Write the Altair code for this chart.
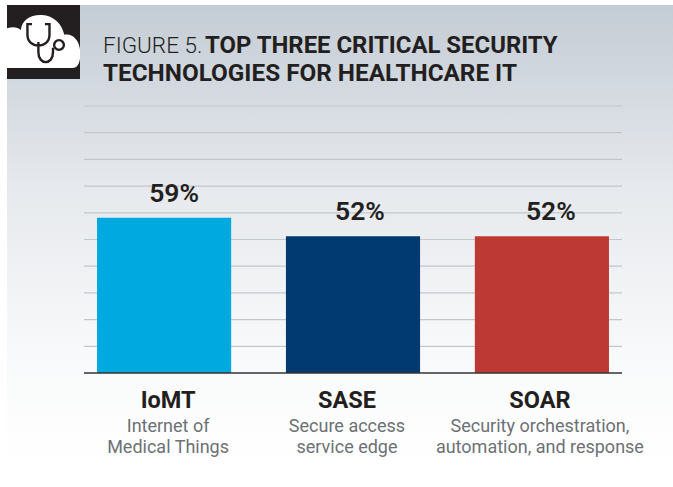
import altair as alt
import pandas as pd

names = ["IoMT", "SASE", "SOAR"]
shares = [59, 52, 52]
bar_colors = ["#00a9e0", "#003a70", "#bd3a34"]
first_lines = ["Internet of", "Secure access", "Security orchestration,"]
second_lines = ["Medical Things", "service edge", "automation, and response"]
grid_levels = [10.15, 20.3, 30.45, 40.6, 50.75, 60.9, 71.05, 81.2, 91.35, 101.5]
value_dx = [10, 7, 9]
caption_dx = [4, -6, -2]

W, H = 538, 267
LEFT, TOP = 84, 106

table = pd.DataFrame({
    "name": names,
    "share": shares,
    "label": [f"{s}%" for s in shares],
    "first": first_lines,
    "second": second_lines,
})

x_scale = alt.Scale(domain=names, paddingInner=0.29, paddingOuter=0.069)
y_scale = alt.Scale(domain=[0, 101.5], nice=False, zero=True)
x = alt.X("name:N", scale=x_scale, axis=None)
y = alt.Y("share:Q", scale=y_scale, axis=None)
colors = alt.Color("name:N", scale=alt.Scale(domain=names, range=bar_colors), legend=None)


def box(x0, x1, y0, y1):
    """Encoding for a rectangle given in page pixels."""
    return dict(
        x=alt.value(x0 - LEFT), x2=alt.value(x1 - LEFT),
        y=alt.value(y0 - TOP), y2=alt.value(y1 - TOP),
    )


def at(px, py):
    return dict(x=alt.value(px - LEFT), y=alt.value(py - TOP))


one = alt.Data(values=[{"k": 0}])

panel = alt.Chart(one).mark_rect(
    clip=False,
    color=alt.Gradient(
        gradient="linear", x1=0, y1=0, x2=0, y2=1,
        stops=[
            alt.GradientStop(color="#c4ccd5", offset=0),
            alt.GradientStop(color="#e6e9ed", offset=0.38),
            alt.GradientStop(color="#f8f9fa", offset=0.72),
            alt.GradientStop(color="#ffffff", offset=0.95),
        ],
    ),
).encode(**box(7, 673, 5, 487))

badge = alt.Chart(one).mark_rect(color="#231f20").encode(**box(7, 80, 5, 79))

# Icon outlines, in symbol units centred on the badge
cloud_path = (
    "M-1 0.71 L-1 -0.38 C-0.85 -0.42 -0.72 -0.42 -0.62 -0.33 "
    "C-0.6 -0.6 -0.35 -0.76 -0.04 -0.74 C0.28 -0.72 0.5 -0.5 0.57 -0.2 "
    "C0.8 -0.25 0.97 -0.05 1 0.2 L1 0.45 C0.98 0.6 0.92 0.71 0.8 0.71 Z"
)
tube_path = (
    "M-0.315 -0.49 L-0.44 -0.49 L-0.44 -0.2 C-0.44 0.2 0.164 0.2 0.164 -0.2 "
    "L0.164 -0.49 L0.04 -0.49 "
    "M-0.14 0 L-0.14 0.28 C-0.14 0.64 0.26 0.64 0.26 0.28 L0.26 0.16"
)
cloud = alt.Chart(one).mark_point(
    shape=cloud_path, size=73 ** 2, filled=True, fill="#ffffff", opacity=1, strokeWidth=0,
).encode(**at(43.5, 42))
tube = alt.Chart(one).mark_point(
    shape=tube_path, size=73 ** 2, filled=False, stroke="#231f20", strokeWidth=2.4, opacity=1,
).encode(**at(43.5, 42))
bell = alt.Chart(one).mark_point(
    shape="circle", size=95, filled=False, stroke="#231f20", strokeWidth=2.4, opacity=1,
).encode(**at(59, 45))

title_font = "Roboto"
title_parts = [
    ("FIGURE 5.", 103, 53, 300, 22.5),
    ("TOP THREE CRITICAL SECURITY", 205, 53, 700, 23.9),
    ("TECHNOLOGIES FOR HEALTHCARE IT", 103, 81, 700, 24.3),
]
titles = [
    alt.Chart(one).mark_text(
        text=txt, align="left", baseline="alphabetic", font=title_font,
        fontSize=size, fontWeight=wt, color="#231f20",
    ).encode(**at(px, py))
    for txt, px, py, wt, size in title_parts
]

gridlines = alt.Chart(pd.DataFrame({"v": grid_levels})).mark_rule(
    color="#c3c7cc", strokeWidth=1.2,
).encode(y=alt.Y("v:Q", scale=y_scale, axis=None))

bars = alt.Chart(table).mark_bar().encode(x=x, y=y, color=colors)

baseline = alt.Chart(pd.DataFrame({"v": [0]})).mark_rule(
    color="#333333", strokeWidth=1.5,
).encode(y=alt.Y("v:Q", scale=y_scale, axis=None))

values = [
    alt.Chart(table.iloc[[i]]).mark_text(
        font=title_font, fontSize=26.5, fontWeight=600, color="#231f20",
        dx=value_dx[i], dy=-16, baseline="alphabetic",
    ).encode(x=x, y=y, text="label:N")
    for i in range(len(names))
]


def caption(field, py, size, weight, color):
    return [
        alt.Chart(table.iloc[[i]]).mark_text(
            font=title_font, fontSize=size, fontWeight=weight, color=color,
            baseline="alphabetic", dx=caption_dx[i],
        ).encode(x=x, y=alt.value(py - TOP), text=f"{field}:N")
        for i in range(len(names))
    ]


layers = [panel, badge, cloud, tube, bell, *titles, gridlines, bars, baseline, *values]
layers += caption("name", 408, 23.5, 700, "#231f20")
layers += caption("first", 432, 18, 400, "#6d7175")
layers += caption("second", 453, 18, 400, "#6d7175")

chart = alt.layer(*layers).resolve_scale(x="shared", y="shared").properties(
    width=W,
    height=H,
    padding={"left": LEFT, "top": TOP, "right": 673 - LEFT - W, "bottom": 487 - TOP - H},
    autosize=alt.AutoSizeParams(type="none"),
    background="#ffffff",
).configure_view(stroke=None)

chart.save("out.html", embed_options={"renderer": "svg", "actions": False})
